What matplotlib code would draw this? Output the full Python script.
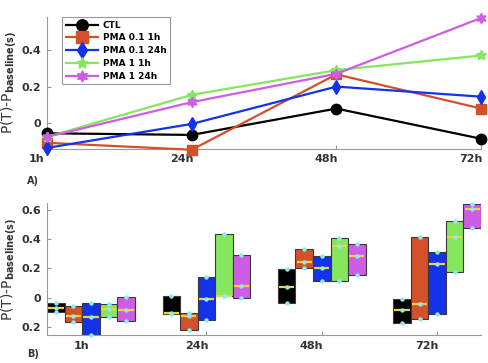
import numpy as np
import matplotlib
matplotlib.use('Agg')
import matplotlib.pyplot as plt
from matplotlib.transforms import ScaledTranslation

# данные
times = ['1h', '24h', '48h', '72h']
groups = ['CTL', 'PMA 0.1 1h', 'PMA 0.1 24h', 'PMA 1 1h', 'PMA 1 24h']
colors = ['#000000', '#D4502A', '#1432E8', '#86E65E', '#CF5CE6']
markers = ['o', 's', 'd', (5, 1, 0), (6, 1, 0)]

# панель A: средние значения
mean_ctl = [-0.055, -0.064, 0.08, -0.085]
mean_pma01_1h = [-0.107, -0.145, 0.267, 0.08]
mean_pma01_24h = [-0.135, -0.004, 0.20, 0.145]
mean_pma1_1h = [-0.075, 0.155, 0.29, 0.37]
mean_pma1_24h = [-0.075, 0.115, 0.27, 0.575]
means = [mean_ctl, mean_pma01_1h, mean_pma01_24h, mean_pma1_1h, mean_pma1_24h]

# панель B: квартили и медианы (строки - группы, столбцы - время)
q1 = [[-0.099, -0.110, -0.038, -0.173],
      [-0.166, -0.223, 0.204, -0.144],
      [-0.256, -0.155, 0.115, -0.110],
      [-0.133, 0.007, 0.115, 0.171],
      [-0.160, -0.002, 0.155, 0.474]]
q3 = [[-0.038, 0.013, 0.193, -0.009],
      [-0.061, -0.103, 0.328, 0.411],
      [-0.038, 0.137, 0.283, 0.310],
      [-0.043, 0.434, 0.403, 0.524],
      [0.002, 0.290, 0.362, 0.640]]
med = [[-0.070, -0.103, 0.074, -0.088],
       [-0.128, -0.128, 0.245, -0.047],
       [-0.133, -0.009, 0.198, 0.227],
       [-0.076, 0.013, 0.351, 0.413],
       [-0.088, 0.081, 0.281, 0.602]]

yticks_b = [-0.2, 0, 0.2, 0.4, 0.6]
yticklabels_b = ['0.2', '0', '0.2', '0.4', '0.6']

plt.rcParams['font.family'] = 'DejaVu Sans'
plt.rcParams['font.weight'] = 'bold'
plt.rcParams['mathtext.default'] = 'bf'

fig = plt.figure(figsize=(4.89, 3.63), dpi=100)
axA = fig.add_axes([0.096, 0.590, 0.888, 0.363])
axB = fig.add_axes([0.096, 0.077, 0.888, 0.364])

ylab = r'P(T)-P$_{\mathbf{baseline(s)}}$'
gray = '#999999'
txt = '#333333'


def style_axis(ax):
    for s in ['top', 'right']:
        ax.spines[s].set_visible(False)
    for s in ['left', 'bottom']:
        ax.spines[s].set_color(gray)
        ax.spines[s].set_linewidth(0.8)
    ax.tick_params(direction='in', length=3, color=gray, labelsize=8,
                   labelcolor=txt, pad=4)
    ax.set_ylabel(ylab, fontsize=10, color=txt, labelpad=2)
    # подписи по x немного сдвинуты влево
    shift = ScaledTranslation(-10 / 100, 0, fig.dpi_scale_trans)
    for lab in ax.get_xticklabels():
        lab.set_transform(lab.get_transform() + shift)
        lab.set_fontweight('bold')


# -------------- Панель A --------------
x = np.arange(1, len(times) + 1)
for i, g in enumerate(groups):
    axA.plot(x, means[i], color=colors[i], marker=markers[i], markersize=7.5,
             linewidth=1.6, label=g, clip_on=False, zorder=3)
axA.set_xlim(1, 4)
axA.set_ylim(-0.14, 0.58)
axA.set_xticks(x)
axA.set_xticklabels(times)
axA.set_yticks([0, 0.2, 0.4])
axA.set_yticklabels(['0', '0.2', '0.4'])
style_axis(axA)
leg = axA.legend(loc='upper left', bbox_to_anchor=(0.035, 1.0),
                 borderaxespad=0, handlelength=3.6, handletextpad=0.5,
                 borderpad=0.4, labelspacing=0.42, markerscale=1.1,
                 fancybox=False, framealpha=1, edgecolor=gray,
                 prop={'weight': 'bold', 'size': 6.5})
leg.get_frame().set_linewidth(0.8)

# -------------- Панель B --------------
w = 0.152
offsets = [-2 * w, -w, 0, w, 2 * w]
for i, g in enumerate(groups):
    pos = x + offsets[i]
    lo = np.array(q1[i])
    hi = np.array(q3[i])
    axB.bar(pos, hi - lo, bottom=lo, width=w, color=colors[i],
            edgecolor='#3a3a3a', linewidth=0.8, zorder=2)
    axB.hlines(med[i], pos - w / 2 + 0.01, pos + w / 2 - 0.01,
               color='#F2D23C', linewidth=1.6, zorder=3)
    for vals in (lo, hi, med[i]):
        axB.plot(pos, vals, 'o', color='#8EEAF2', markersize=3.2,
                 markeredgewidth=0, zorder=4, clip_on=False)

axB.set_xlim(1 - 0.382, 4 + 0.382)
axB.set_ylim(-0.256, 0.645)
axB.set_xticks(x)
axB.set_xticklabels(times)
axB.set_yticks(yticks_b)
axB.set_yticklabels(yticklabels_b)
style_axis(axB)

fig.text(0.055, 0.501, 'A)', fontsize=7, fontweight='bold', color=txt,
         ha='left', va='center')
fig.text(0.055, 0.025, 'B)', fontsize=7, fontweight='bold', color=txt,
         ha='left', va='center')

plt.savefig('out.png', dpi=100)
